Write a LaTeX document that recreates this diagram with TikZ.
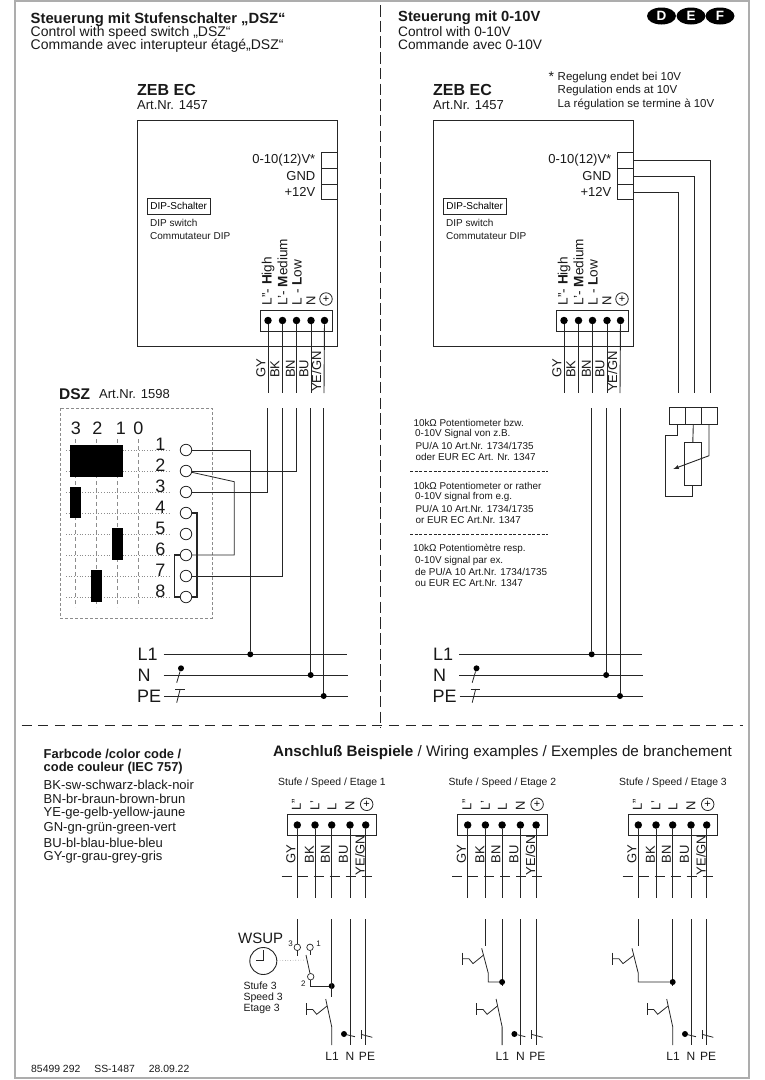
\documentclass[tikz,border=0pt]{standalone}
\usepackage{fontspec}
\setmainfont{Liberation Sans}
\usetikzlibrary{shapes,arrows}
\usetikzlibrary{calc}

\definecolor{inkline}{gray}{0.15}
\definecolor{framegray}{gray}{0.68}
\definecolor{gridgray}{gray}{0.55}

\tikzset{
  txt/.style={inner sep=0pt, anchor=west, text=black!90},
  s9/.style={txt, font=\fontsize{9.9}{9.9}\selectfont},
  s10/.style={txt, font=\fontsize{10}{10}\selectfont},
  s11/.style={txt, font=\fontsize{11.5}{11.5}\selectfont},
  s13/.style={txt, font=\fontsize{13}{13}\selectfont},
  s14/.style={txt, font=\fontsize{14}{14}\selectfont},
  s18/.style={txt, font=\fontsize{18}{18}\selectfont},
  cnt/.style={anchor=center},
  wire/.style={draw=inkline, line width=0.9pt},
  thin wire/.style={draw=inkline, line width=0.8pt},
  box/.style={draw=inkline, line width=0.9pt},
  solder/.style={circle, fill=black, inner sep=0pt, minimum size=7.5pt},
  junction/.style={circle, fill=black, inner sep=0pt, minimum size=6pt},
  contact/.style={circle, draw=inkline, fill=white, line width=0.8pt, inner sep=0pt, minimum size=11.5pt},
  small contact/.style={circle, draw=inkline, fill=white, line width=0.7pt, inner sep=0pt, minimum size=6.5pt},
  earth/.style={circle, draw=inkline, line width=0.8pt, inner sep=0pt, minimum size=12.5pt, font=\fontsize{11}{11}\selectfont},
  sepline/.style={draw=inkline, line width=0.9pt},
  cam/.style={fill=black, draw=none},
  lang/.style={ellipse, fill=black, text=white, inner sep=0pt, minimum width=29pt, minimum height=17pt, font=\fontsize{13.5}{13.5}\selectfont\bfseries},
}

\begin{document}
\begin{tikzpicture}[x=1pt,y=-1pt]

\useasboundingbox (0,0) rectangle (764,1080);

\draw[draw=framegray, line width=1.2pt] (15,1) rectangle (749,1078);

\coordinate (sepT) at (380.5,5);
\coordinate (sepB) at (380.5,728);
\coordinate (sepL) at (21.5,725);
\coordinate (sepR) at (743,725);
\draw[sepline, dash pattern=on 11.5pt off 4.2pt] (sepT) -- (sepB);
\draw[sepline, dash pattern=on 10pt off 6.7pt] (sepL) -- (sepR);

\node[s14, font=\fontsize{14.8}{14.8}\selectfont\bfseries] (titleA) at (30.5,19.5) {Steuerung mit Stufenschalter „DSZ“};
\node[s14] (titleB) at (30.5,33) {Control with speed switch „DSZ“};
\node[s14] (titleC) at (30.5,46) {Commande avec interupteur étagé„DSZ“};

\node[s14, font=\fontsize{14.7}{14.7}\selectfont\bfseries] (titleD) at (398,18) {Steuerung mit 0-10V};
\node[s14, font=\fontsize{13.7}{13.7}\selectfont] (titleE) at (398,31.5) {Control with 0-10V};
\node[s14, font=\fontsize{13.7}{13.7}\selectfont] (titleF) at (398,44.5) {Commande avec 0-10V};

\node[lang] (langD) at (661.5,16) {D};
\node[lang] (langE) at (691,16) {E};
\node[lang] (langF) at (720,16) {F};

\node[s14, font=\fontsize{14}{14}\selectfont] (star) at (548.5,77) {*};
\node[s11] (noteA) at (557.5,77.5) {Regelung endet bei 10V};
\node[s11] (noteB) at (557.5,91) {Regulation ends at 10V};
\node[s11] (noteC) at (557.5,104) {La régulation se termine à 10V};

% controller, switch side
\begin{scope}

\node[s14, font=\fontsize{16}{16}\selectfont\bfseries] (zebL) at (137,90) {ZEB EC};
\node[s13] (artL) at (137,105) {Art.Nr. 1457};

\draw[box] (137.5,120) rectangle (337,346);

\node[draw=inkline, line width=0.8pt, fill=white, minimum width=63pt, minimum height=16pt, inner sep=0pt, font=\fontsize{10}{10}\selectfont] (dipL) at (178.7,206.3) {DIP-Schalter};
\node[s10] (dipLb) at (150,223) {DIP switch};
\node[s10] (dipLc) at (150,236) {Commutateur DIP};

\node[s13, anchor=east] (vL) at (315.5,160) {0-10(12)V*};
\node[s13, anchor=east] (gL) at (315.5,176) {GND};
\node[s13, anchor=east] (pL) at (315.5,192) {+12V};
\draw[box] (321.5,152) rectangle (337,168);
\draw[box] (321.5,168) rectangle (337,184);
\draw[box] (321.5,184) rectangle (337,199);

\node[s13, rotate=90, font=\fontsize{13.6}{13.6}\selectfont] (lHL) at (268,305.5) {L''- \textbf{H}igh};
\node[s13, rotate=90, font=\fontsize{13.6}{13.6}\selectfont] (lML) at (282.5,305.5) {L'- \textbf{M}edium};
\node[s13, rotate=90, font=\fontsize{13.6}{13.6}\selectfont] (lLL) at (297,305.5) {L - \textbf{L}ow};
\node[s13, rotate=90] (lNL) at (311,305.5) {N};
\node[earth] (lEL) at (326,299) {+};

\draw[box] (260,310) rectangle (332,331);
\node[solder] (t1) at (268,320.5) {};
\node[solder] (t2) at (282.5,320.5) {};
\node[solder] (t3) at (296.5,320.5) {};
\node[solder] (t4) at (311,320.5) {};
\node[solder] (t5) at (324.5,320.5) {};

\coordinate (e1) at (268,393);
\coordinate (e2) at (282.5,393);
\coordinate (e3) at (296.5,393);
\coordinate (e4) at (311,393);
\coordinate (e5) at (324,393);
\draw[wire] (t1) -- (e1);
\draw[wire] (t2) -- (e2);
\draw[wire] (t3) -- (e3);
\draw[wire] (t4) -- (e4);
\draw[wire] (t5) -- (e5);

\node[s13, rotate=90] (cGYL) at (261,378) {GY};
\node[s13, rotate=90] (cBKL) at (275,378) {BK};
\node[s13, rotate=90] (cBNL) at (290.5,378) {BN};
\node[s13, rotate=90] (cBUL) at (304,378) {BU};
\node[s13, rotate=90] (cYEL) at (316.5,392) {YE/GN};

\end{scope}

% controller, 0-10V side
\begin{scope}[shift={(296,0)}]

\node[s14, font=\fontsize{16}{16}\selectfont\bfseries] (zebR) at (137,90) {ZEB EC};
\node[s13] (artR) at (137,105) {Art.Nr. 1457};

\draw[box] (137.5,120) rectangle (337,346);

\node[draw=inkline, line width=0.8pt, fill=white, minimum width=63pt, minimum height=16pt, inner sep=0pt, font=\fontsize{10}{10}\selectfont] (dipR) at (178.7,206.3) {DIP-Schalter};
\node[s10] (dipRb) at (150,223) {DIP switch};
\node[s10] (dipRc) at (150,236) {Commutateur DIP};

\node[s13, anchor=east] (vR) at (315.5,160) {0-10(12)V*};
\node[s13, anchor=east] (gR) at (315.5,176) {GND};
\node[s13, anchor=east] (pR) at (315.5,192) {+12V};
\draw[box] (321.5,152) rectangle (337,168);
\draw[box] (321.5,168) rectangle (337,184);
\draw[box] (321.5,184) rectangle (337,199);
\coordinate (qV) at (337,160);
\coordinate (qG) at (337,176);
\coordinate (qP) at (337,192);

\node[s13, rotate=90, font=\fontsize{13.6}{13.6}\selectfont] (lHR) at (268,305.5) {L''- \textbf{H}igh};
\node[s13, rotate=90, font=\fontsize{13.6}{13.6}\selectfont] (lMR) at (282.5,305.5) {L'- \textbf{M}edium};
\node[s13, rotate=90, font=\fontsize{13.6}{13.6}\selectfont] (lLR) at (297,305.5) {L - \textbf{L}ow};
\node[s13, rotate=90] (lNR) at (311,305.5) {N};
\node[earth] (lER) at (326,299) {+};

\draw[box] (260,310) rectangle (332,331);
\node[solder] (u1) at (268,320.5) {};
\node[solder] (u2) at (282.5,320.5) {};
\node[solder] (u3) at (296.5,320.5) {};
\node[solder] (u4) at (311,320.5) {};
\node[solder] (u5) at (324.5,320.5) {};

\coordinate (f1) at (268,393);
\coordinate (f2) at (282.5,393);
\coordinate (f3) at (296.5,393);
\coordinate (f4) at (311,393);
\coordinate (f5) at (324,393);
\draw[wire] (u1) -- (f1);
\draw[wire] (u2) -- (f2);
\draw[wire] (u3) -- (f3);
\draw[wire] (u4) -- (f4);
\draw[wire] (u5) -- (f5);

\node[s13, rotate=90] (cGYR) at (261,378) {GY};
\node[s13, rotate=90] (cBKR) at (275,378) {BK};
\node[s13, rotate=90] (cBNR) at (290.5,378) {BN};
\node[s13, rotate=90] (cBUR) at (304,378) {BU};
\node[s13, rotate=90] (cYER) at (316.5,392) {YE/GN};

\end{scope}

% switch DSZ
\node[s14, font=\fontsize{15.5}{15.5}\selectfont\bfseries] (dszT) at (59,394) {DSZ};
\node[s13] (dszA) at (99,394.5) {Art.Nr. 1598};
\draw[draw=gridgray, line width=0.7pt, dash pattern=on 3pt off 2pt] (60,408) rectangle (212,618);

\node[s18, cnt] (h3) at (76,428) {3};
\node[s18, cnt] (h2) at (97.5,428) {2};
\node[s18, cnt] (h1) at (121,428) {1};
\node[s18, cnt] (h0) at (138.5,428) {0};

\draw[draw=gridgray, line width=0.6pt, dash pattern=on 4pt off 3pt] (75.7,439) -- (75.7,607);
\draw[draw=gridgray, line width=0.6pt, dash pattern=on 4pt off 3pt] (96.7,439) -- (96.7,607);
\draw[draw=gridgray, line width=0.6pt, dash pattern=on 4pt off 3pt] (117.5,439) -- (117.5,607);
\draw[draw=gridgray, line width=0.6pt, dash pattern=on 4pt off 3pt] (138.7,439) -- (138.7,607);

\draw[draw=gridgray, line width=0.7pt, dotted] (66,450) -- (170,450);
\draw[draw=gridgray, line width=0.7pt, dotted] (66,471) -- (170,471);
\draw[draw=gridgray, line width=0.7pt, dotted] (66,492) -- (170,492);
\draw[draw=gridgray, line width=0.7pt, dotted] (66,513) -- (170,513);
\draw[draw=gridgray, line width=0.7pt, dotted] (66,534) -- (170,534);
\draw[draw=gridgray, line width=0.7pt, dotted] (66,555) -- (170,555);
\draw[draw=gridgray, line width=0.7pt, dotted] (66,576) -- (170,576);
\draw[draw=gridgray, line width=0.7pt, dotted] (66,597) -- (170,597);

\fill[cam] (70,444.7) rectangle (123.3,476.5);
\fill[cam] (70,486.7) rectangle (81.3,518.3);
\fill[cam] (112,528.3) rectangle (123.3,560.3);
\fill[cam] (91,570) rectangle (102.3,602.3);

\node[s18, cnt] (n1) at (160.5,444) {1};
\node[s18, cnt] (n2) at (160.5,465) {2};
\node[s18, cnt] (n3) at (160.5,486) {3};
\node[s18, cnt] (n4) at (160.5,507) {4};
\node[s18, cnt] (n5) at (160.5,528) {5};
\node[s18, cnt] (n6) at (160.5,549) {6};
\node[s18, cnt] (n7) at (160.5,570) {7};
\node[s18, cnt] (n8) at (160.5,591) {8};

\node[contact] (c1) at (186,450) {};
\node[contact] (c2) at (186,471) {};
\node[contact] (c3) at (186,492) {};
\node[contact] (c4) at (186,513) {};
\node[contact] (c5) at (186,534) {};
\node[contact] (c6) at (186,555) {};
\node[contact] (c7) at (186,576) {};
\node[contact] (c8) at (186,597) {};

\draw[wire, line width=1.4pt] (c4.east) -- ++(5,0) |- (c8.east);
\draw[wire, line width=1.4pt] (c6.west) -- ++(-5.5,0) |- (c8.west);

% mains left
\node[s18] (busL1) at (137.5,654) {L1};
\node[s18] (busN) at (137.5,675) {N};
\node[s18] (busPE) at (137,696) {PE};
\coordinate (l1a) at (163.7,654.3);
\coordinate (l1b) at (346.7,654.3);
\coordinate (nA) at (163.7,675);
\coordinate (nB) at (347.7,675);
\coordinate (peA) at (164,696);
\coordinate (peB) at (347.7,696);
\draw[wire] (l1a) -- (l1b);
\draw[wire] (nA) -- (nB);
\draw[wire] (peA) -- (peB);
\node[junction] (j1) at (250.3,654.3) {};
\node[junction] (j2) at (310.7,675) {};
\node[junction] (j3) at (323.7,696) {};
\node[junction] (nDotL) at (181,668.3) {};
\coordinate (nTailL) at (176.7,682.7);
\draw[thin wire] (nDotL) -- (nTailL);
\coordinate (peBarAL) at (175,689);
\coordinate (peBarBL) at (184.5,689);
\coordinate (peBarCL) at (180.2,689);
\coordinate (peTailL) at (176.7,702.7);
\draw[thin wire] (peBarAL) -- (peBarBL);
\draw[thin wire] (peBarCL) -- (peTailL);

\coordinate (g1) at (267.7,408);
\coordinate (g2) at (282.5,408);
\coordinate (g3) at (296.5,408);
\coordinate (g4) at (310.7,408);
\coordinate (g5) at (323.7,408);
\draw[wire] (g4) -- (j2);
\draw[wire] (g5) -- (j3);
\draw[wire] (c1) -| (j1);
\draw[wire] (c2) -| (g3);
\draw[wire] (c3) -| (g1);
\draw[wire] (c7) -| (g2);
\coordinate (brk) at (234.3,481.7);
\draw[thin wire] (c2) -- (brk) |- (c6);

% mains right
\begin{scope}[shift={(295.5,0)}]
\node[s18] (busL1r) at (137.5,654) {L1};
\node[s18] (busNr) at (137.5,675) {N};
\node[s18] (busPEr) at (137,696) {PE};
\coordinate (l1c) at (163.7,654.3);
\coordinate (l1d) at (346.7,654.3);
\coordinate (nC) at (163.7,675);
\coordinate (nD) at (347.7,675);
\coordinate (peC) at (164,696);
\coordinate (peD) at (347.7,696);
\draw[wire] (l1c) -- (l1d);
\draw[wire] (nC) -- (nD);
\draw[wire] (peC) -- (peD);
\node[junction] (k1) at (296.2,654.3) {};
\node[junction] (k2) at (310.7,675) {};
\node[junction] (k3) at (324.5,696) {};
\node[junction] (nDotR) at (181,668.3) {};
\coordinate (nTailR) at (176.7,682.7);
\draw[thin wire] (nDotR) -- (nTailR);
\coordinate (peBarAR) at (175,689);
\coordinate (peBarBR) at (184.5,689);
\coordinate (peBarCR) at (180.2,689);
\coordinate (peTailR) at (176.7,702.7);
\draw[thin wire] (peBarAR) -- (peBarBR);
\draw[thin wire] (peBarCR) -- (peTailR);
\coordinate (h3c) at (296.2,408);
\coordinate (h4c) at (310.7,408);
\coordinate (h5c) at (324.5,408);
\draw[wire] (h3c) -- (k1);
\draw[wire] (h4c) -- (k2);
\draw[wire] (h5c) -- (k3);
\end{scope}

% potentiometer
\coordinate (wV) at (710,393);
\coordinate (wG) at (694,393);
\coordinate (wP) at (678,393);
\draw[wire] (qV) -| (wV);
\draw[wire] (qG) -| (wG);
\draw[wire] (qP) -| (wP);

\node[box, minimum width=16pt, minimum height=16.5pt, inner sep=0pt] (pot1) at (677.3,416) {};
\node[box, minimum width=16pt, minimum height=16.5pt, inner sep=0pt] (pot2) at (693.3,416) {};
\node[box, minimum width=16pt, minimum height=16.5pt, inner sep=0pt] (pot3) at (709,416) {};
\node[box, minimum width=17pt, minimum height=42.5pt, inner sep=0pt] (res) at (692.8,464) {};
\coordinate (bendA) at (665.3,435.7);
\coordinate (bendB) at (665.3,496.3);
\coordinate (tapA) at (709,455.7);
\coordinate (tapB) at (673.3,469);
\draw[wire] (pot1.south) |- (bendA) -- (bendB) -| (res.south);
\draw[wire] (pot2.south) -- (res.north);
\draw[wire, -latex] (pot3.south) -- (tapA) -- (tapB);

% potentiometer text
\node[s9] (a1) at (413.3,423) {10kΩ Potentiometer bzw.};
\node[s9] (a2) at (415,434) {0-10V Signal von z.B.};
\node[s9] (a3) at (415.3,445.7) {PU/A 10 Art.Nr. 1734/1735};
\node[s9] (a4) at (415.3,457) {oder EUR EC Art. Nr. 1347};
\coordinate (dash1a) at (410,471.3);
\coordinate (dash1b) at (547.7,471.3);
\draw[thin wire, dash pattern=on 3pt off 1.7pt] (dash1a) -- (dash1b);
\node[s9] (b1) at (413.3,486.3) {10kΩ Potentiometer or rather};
\node[s9] (b2) at (415,497.3) {0-10V signal from e.g.};
\node[s9] (b3) at (415.3,508.7) {PU/A 10 Art.Nr. 1734/1735};
\node[s9] (b4) at (415.3,520) {or EUR EC Art.Nr. 1347};
\coordinate (dash2a) at (410,534);
\coordinate (dash2b) at (547.7,534);
\draw[thin wire, dash pattern=on 3pt off 1.7pt] (dash2a) -- (dash2b);
\node[s9] (d1) at (413,549.3) {10kΩ Potentiomètre resp.};
\node[s9] (d2) at (415,560.7) {0-10V signal par ex.};
\node[s9] (d3) at (415,571.7) {de PU/A 10 Art.Nr. 1734/1735};
\node[s9] (d4) at (415,583) {ou EUR EC Art.Nr. 1347};

% colour code
\node[s13, font=\fontsize{12.9}{12.9}\selectfont\bfseries] (fa) at (43.5,754) {Farbcode /color code /};
\node[s13, font=\fontsize{12.9}{12.9}\selectfont\bfseries] (fb) at (43.5,768.5) {code couleur (IEC 757)};
\node[s13] (fc) at (43.5,785) {BK-sw-schwarz-black-noir};
\node[s13] (fd) at (43.5,799) {BN-br-braun-brown-brun};
\node[s13] (fe) at (43.5,813.5) {YE-ge-gelb-yellow-jaune};
\node[s13] (ff) at (43.5,828) {GN-gn-grün-green-vert};
\node[s13] (fg) at (43.5,842.5) {BU-bl-blau-blue-bleu};
\node[s13] (fh) at (43.5,857) {GY-gr-grau-grey-gris};

\node[s14, font=\fontsize{15.2}{15.2}\selectfont] (exT) at (273,753) {\textbf{Anschluß Beispiele} / Wiring examples / Exemples de branchement};
\node[s10, font=\fontsize{10.4}{10.4}\selectfont] (code) at (31,1069) {85499 292\hspace{14pt}SS-1487\hspace{14pt}28.09.22};

% example 1
\begin{scope}

\node[s10, cnt, font=\fontsize{10.4}{10.4}\selectfont] (st1) at (332,782.7) {Stufe / Speed / Etage 1};

\node[s13, rotate=90] (m1a) at (296.5,810.5) {L''};
\node[s13, rotate=90] (m1b) at (315,810.5) {L'};
\node[s13, rotate=90] (m1c) at (332,810.5) {L};
\node[s13, rotate=90] (m1d) at (350,810.5) {N};
\node[earth] (m1e) at (366.7,804.3) {+};

\draw[box] (287,814.3) rectangle (376.7,835.7);
\node[solder] (m1t1) at (297.3,825) {};
\node[solder] (m1t2) at (315,825) {};
\node[solder] (m1t3) at (331.7,825) {};
\node[solder] (m1t4) at (350,825) {};
\node[solder] (m1t5) at (365.7,825) {};

\coordinate (m1e1) at (297.3,897.7);
\coordinate (m1e2) at (315,897.7);
\coordinate (m1e3) at (331.7,897.7);
\coordinate (m1e4) at (350,897.7);
\coordinate (m1e5) at (365.7,897.7);
\draw[wire] (m1t1) -- (m1e1);
\draw[wire] (m1t2) -- (m1e2);
\draw[wire] (m1t3) -- (m1e3);
\draw[wire] (m1t4) -- (m1e4);
\draw[wire] (m1t5) -- (m1e5);

\node[s13, rotate=90] (m1gy) at (291,863.5) {GY};
\node[s13, rotate=90] (m1bk) at (309.5,863.5) {BK};
\node[s13, rotate=90] (m1bn) at (325.5,863.5) {BN};
\node[s13, rotate=90] (m1bu) at (343.5,863.5) {BU};
\node[s13, rotate=90] (m1ye) at (360,875.5) {YE/GN};

\coordinate (m1sa) at (281.7,876.7);
\coordinate (m1sb) at (376.7,876.7);
\draw[thin wire, dash pattern=on 10pt off 6pt] (m1sa) -- (m1sb);

\coordinate (m1g1) at (297.3,919);
\coordinate (m1g3) at (331.7,919);
\coordinate (m1g4) at (350,919);
\coordinate (m1g5) at (365.7,919);
\coordinate (m1l1) at (331.7,996.7);
\coordinate (m1n) at (350,1045);
\coordinate (m1p) at (365.7,1045);

\node[small contact] (w3) at (297.3,947.3) {};
\node[small contact] (w1) at (310,947.3) {};
\node[small contact] (w2) at (310.7,976.7) {};
\node[s10, cnt, font=\fontsize{8}{8}\selectfont] (w3t) at (290.7,943.3) {3};
\node[s10, cnt, font=\fontsize{8}{8}\selectfont] (w1t) at (318.7,943.3) {1};
\node[s10, cnt, font=\fontsize{8}{8}\selectfont] (w2t) at (303.3,983.3) {2};
\draw[wire] (m1g1) -- (w3);
\coordinate (w3tail) at (297.3,956);
\coordinate (w1tail) at (310,955);
\draw[thin wire] (w3) -- (w3tail);
\draw[thin wire] (w1) -- (w1tail);
\coordinate (wpiv) at (306,955);
\draw[thin wire] (wpiv) -- (w2);
\node[junction] (wj) at (331.7,986) {};
\draw[thin wire] (w2) |- (wj);
\draw[wire] (m1g3) -- (m1l1);
\draw[wire] (m1g4) -- (m1n);
\draw[wire] (m1g5) -- (m1p);

\node[s14, cnt, font=\fontsize{15}{15}\selectfont] (wsup) at (260.7,938.3) {WSUP};
\node[circle, draw=inkline, line width=0.9pt, minimum size=27pt, inner sep=0pt] (clock) at (263.3,961) {};
\coordinate (handA) at (263.3,950);
\coordinate (handB) at (263.3,960.7);
\coordinate (handC) at (256,960.7);
\draw[thin wire] (handA) -- (handB) -- (handC);
\coordinate (clockEnd) at (307,960);
\draw[draw=gridgray, line width=0.6pt, dotted] (clock) -- (clockEnd);
\node[s11, font=\fontsize{10.5}{10.5}\selectfont] (st3a) at (243.3,985.3) {Stufe 3};
\node[s11, font=\fontsize{10.5}{10.5}\selectfont] (st3b) at (243.3,997.3) {Speed 3};
\node[s11, font=\fontsize{10.5}{10.5}\selectfont] (st3c) at (243.3,1009.3) {Etage 3};

\coordinate (m1bt) at (325.7,999);
\coordinate (m1bb) at (331.7,1026.7);
\coordinate (m1bc) at (331.7,1045);
\draw[thin wire] (m1bt) -- (m1bb) -- (m1bc);
\coordinate (m1aa) at (306,1003);
\coordinate (m1ab) at (306,1015);
\coordinate (m1ac) at (306,1009.5);
\coordinate (m1ad) at (312.7,1009.5);
\coordinate (m1ae) at (316.7,1014.3);
\coordinate (m1af) at (327,1006);
\draw[thin wire] (m1aa) -- (m1ab);
\draw[thin wire] (m1ac) -- (m1ad) -- (m1ae) -- (m1af);

\node[junction] (m1nd) at (344,1034) {};
\coordinate (m1ne) at (355,1036.7);
\draw[thin wire] (m1nd) -- (m1ne);
\coordinate (m1pa) at (361,1030);
\coordinate (m1pb) at (361,1038.7);
\coordinate (m1pc) at (361,1034.3);
\coordinate (m1pd) at (372.3,1037.3);
\draw[thin wire] (m1pa) -- (m1pb);
\draw[thin wire] (m1pc) -- (m1pd);

\node[s11, cnt, font=\fontsize{12}{12}\selectfont] (m1x) at (332,1056) {L1};
\node[s11, cnt, font=\fontsize{12}{12}\selectfont] (m1y) at (350,1056) {N};
\node[s11, cnt, font=\fontsize{12}{12}\selectfont] (m1z) at (367,1056) {PE};

\end{scope}

% example 2
\begin{scope}[shift={(170.4,0)}]

\node[s10, cnt, font=\fontsize{10.4}{10.4}\selectfont] (st2) at (332,782.7) {Stufe / Speed / Etage 2};

\node[s13, rotate=90] (m2a) at (296.5,810.5) {L''};
\node[s13, rotate=90] (m2b) at (315,810.5) {L'};
\node[s13, rotate=90] (m2c) at (332,810.5) {L};
\node[s13, rotate=90] (m2d) at (350,810.5) {N};
\node[earth] (m2e) at (366.7,804.3) {+};

\draw[box] (287,814.3) rectangle (376.7,835.7);
\node[solder] (m2t1) at (297.3,825) {};
\node[solder] (m2t2) at (315,825) {};
\node[solder] (m2t3) at (331.7,825) {};
\node[solder] (m2t4) at (350,825) {};
\node[solder] (m2t5) at (365.7,825) {};

\coordinate (m2e1) at (297.3,897.7);
\coordinate (m2e2) at (315,897.7);
\coordinate (m2e3) at (331.7,897.7);
\coordinate (m2e4) at (350,897.7);
\coordinate (m2e5) at (365.7,897.7);
\draw[wire] (m2t1) -- (m2e1);
\draw[wire] (m2t2) -- (m2e2);
\draw[wire] (m2t3) -- (m2e3);
\draw[wire] (m2t4) -- (m2e4);
\draw[wire] (m2t5) -- (m2e5);

\node[s13, rotate=90] (m2gy) at (291,863.5) {GY};
\node[s13, rotate=90] (m2bk) at (309.5,863.5) {BK};
\node[s13, rotate=90] (m2bn) at (325.5,863.5) {BN};
\node[s13, rotate=90] (m2bu) at (343.5,863.5) {BU};
\node[s13, rotate=90] (m2ye) at (360,875.5) {YE/GN};

\coordinate (m2sa) at (281.7,876.7);
\coordinate (m2sb) at (376.7,876.7);
\draw[thin wire, dash pattern=on 10pt off 6pt] (m2sa) -- (m2sb);

\coordinate (m2g2) at (315,919);
\coordinate (m2g2b) at (315,945.7);
\coordinate (m2g3) at (331.7,919);
\coordinate (m2g4) at (350,919);
\coordinate (m2g5) at (365.7,919);
\coordinate (m2l1) at (331.7,985.7);
\coordinate (m2n) at (350,1045);
\coordinate (m2p) at (365.7,1045);
\draw[wire] (m2g2) -- (m2g2b);
\draw[wire] (m2g3) -- (m2l1);
\draw[wire] (m2g4) -- (m2n);
\draw[wire] (m2g5) -- (m2p);

\node[junction] (m2j) at (331.7,982) {};
\coordinate (m2ct) at (311.3,948.3);
\coordinate (m2cb) at (317.9,973.3);
\draw[thin wire] (m2ct) -- (m2cb) |- (m2j);
\coordinate (m2ca) at (291.9,952.7);
\coordinate (m2cc) at (291.9,965);
\coordinate (m2cd) at (291.9,958.8);
\coordinate (m2ce) at (298.6,958.8);
\coordinate (m2cf) at (302.6,963.6);
\coordinate (m2cg) at (312.6,955.5);
\draw[thin wire] (m2ca) -- (m2cc);
\draw[thin wire] (m2cd) -- (m2ce) -- (m2cf) -- (m2cg);

\coordinate (m2bt) at (325.7,999);
\coordinate (m2bb) at (331.7,1026.7);
\coordinate (m2bc) at (331.7,1045);
\draw[thin wire] (m2bt) -- (m2bb) -- (m2bc);
\coordinate (m2aa) at (306,1003);
\coordinate (m2ab) at (306,1015);
\coordinate (m2ac) at (306,1009.5);
\coordinate (m2ad) at (312.7,1009.5);
\coordinate (m2ae) at (316.7,1014.3);
\coordinate (m2af) at (327,1006);
\draw[thin wire] (m2aa) -- (m2ab);
\draw[thin wire] (m2ac) -- (m2ad) -- (m2ae) -- (m2af);

\node[junction] (m2nd) at (344,1034) {};
\coordinate (m2ne) at (355,1036.7);
\draw[thin wire] (m2nd) -- (m2ne);
\coordinate (m2pa) at (361,1030);
\coordinate (m2pb) at (361,1038.7);
\coordinate (m2pc) at (361,1034.3);
\coordinate (m2pd) at (372.3,1037.3);
\draw[thin wire] (m2pa) -- (m2pb);
\draw[thin wire] (m2pc) -- (m2pd);

\node[s11, cnt, font=\fontsize{12}{12}\selectfont] (m2x) at (332,1056) {L1};
\node[s11, cnt, font=\fontsize{12}{12}\selectfont] (m2y) at (350,1056) {N};
\node[s11, cnt, font=\fontsize{12}{12}\selectfont] (m2z) at (367,1056) {PE};

\end{scope}

% example 3
\begin{scope}[shift={(341,0)}]

\node[s10, cnt, font=\fontsize{10.4}{10.4}\selectfont] (st3) at (332,782.7) {Stufe / Speed / Etage 3};

\node[s13, rotate=90] (m3a) at (296.5,810.5) {L''};
\node[s13, rotate=90] (m3b) at (315,810.5) {L'};
\node[s13, rotate=90] (m3c) at (332,810.5) {L};
\node[s13, rotate=90] (m3d) at (350,810.5) {N};
\node[earth] (m3e) at (366.7,804.3) {+};

\draw[box] (287,814.3) rectangle (376.7,835.7);
\node[solder] (m3t1) at (297.3,825) {};
\node[solder] (m3t2) at (315,825) {};
\node[solder] (m3t3) at (331.7,825) {};
\node[solder] (m3t4) at (350,825) {};
\node[solder] (m3t5) at (365.7,825) {};

\coordinate (m3e1) at (297.3,897.7);
\coordinate (m3e2) at (315,897.7);
\coordinate (m3e3) at (331.7,897.7);
\coordinate (m3e4) at (350,897.7);
\coordinate (m3e5) at (365.7,897.7);
\draw[wire] (m3t1) -- (m3e1);
\draw[wire] (m3t2) -- (m3e2);
\draw[wire] (m3t3) -- (m3e3);
\draw[wire] (m3t4) -- (m3e4);
\draw[wire] (m3t5) -- (m3e5);

\node[s13, rotate=90] (m3gy) at (291,863.5) {GY};
\node[s13, rotate=90] (m3bk) at (309.5,863.5) {BK};
\node[s13, rotate=90] (m3bn) at (325.5,863.5) {BN};
\node[s13, rotate=90] (m3bu) at (343.5,863.5) {BU};
\node[s13, rotate=90] (m3ye) at (360,875.5) {YE/GN};

\coordinate (m3sa) at (281.7,876.7);
\coordinate (m3sb) at (376.7,876.7);
\draw[thin wire, dash pattern=on 10pt off 6pt] (m3sa) -- (m3sb);

\coordinate (m3g1) at (297.3,919);
\coordinate (m3g1b) at (297.3,945.7);
\coordinate (m3g3) at (331.7,919);
\coordinate (m3g4) at (350,919);
\coordinate (m3g5) at (365.7,919);
\coordinate (m3l1) at (331.7,985.7);
\coordinate (m3n) at (350,1045);
\coordinate (m3p) at (365.7,1045);
\draw[wire] (m3g1) -- (m3g1b);
\draw[wire] (m3g3) -- (m3l1);
\draw[wire] (m3g4) -- (m3n);
\draw[wire] (m3g5) -- (m3p);

\node[junction] (m3j) at (331.7,982) {};
\coordinate (m3ct) at (291,948.3);
\coordinate (m3cb) at (297.3,973.3);
\draw[thin wire] (m3ct) -- (m3cb) |- (m3j);
\coordinate (m3ca) at (271.3,952.7);
\coordinate (m3cc) at (271.3,965);
\coordinate (m3cd) at (271.3,958.8);
\coordinate (m3ce) at (278,958.8);
\coordinate (m3cf) at (282,963.6);
\coordinate (m3cg) at (292.5,955.5);
\draw[thin wire] (m3ca) -- (m3cc);
\draw[thin wire] (m3cd) -- (m3ce) -- (m3cf) -- (m3cg);

\coordinate (m3bt) at (325.7,999);
\coordinate (m3bb) at (331.7,1026.7);
\coordinate (m3bc) at (331.7,1045);
\draw[thin wire] (m3bt) -- (m3bb) -- (m3bc);
\coordinate (m3aa) at (306,1003);
\coordinate (m3ab) at (306,1015);
\coordinate (m3ac) at (306,1009.5);
\coordinate (m3ad) at (312.7,1009.5);
\coordinate (m3ae) at (316.7,1014.3);
\coordinate (m3af) at (327,1006);
\draw[thin wire] (m3aa) -- (m3ab);
\draw[thin wire] (m3ac) -- (m3ad) -- (m3ae) -- (m3af);

\node[junction] (m3nd) at (344,1034) {};
\coordinate (m3ne) at (355,1036.7);
\draw[thin wire] (m3nd) -- (m3ne);
\coordinate (m3pa) at (361,1030);
\coordinate (m3pb) at (361,1038.7);
\coordinate (m3pc) at (361,1034.3);
\coordinate (m3pd) at (372.3,1037.3);
\draw[thin wire] (m3pa) -- (m3pb);
\draw[thin wire] (m3pc) -- (m3pd);

\node[s11, cnt, font=\fontsize{12}{12}\selectfont] (m3x) at (332,1056) {L1};
\node[s11, cnt, font=\fontsize{12}{12}\selectfont] (m3y) at (350,1056) {N};
\node[s11, cnt, font=\fontsize{12}{12}\selectfont] (m3z) at (367,1056) {PE};

\end{scope}

\end{tikzpicture}
\end{document}
